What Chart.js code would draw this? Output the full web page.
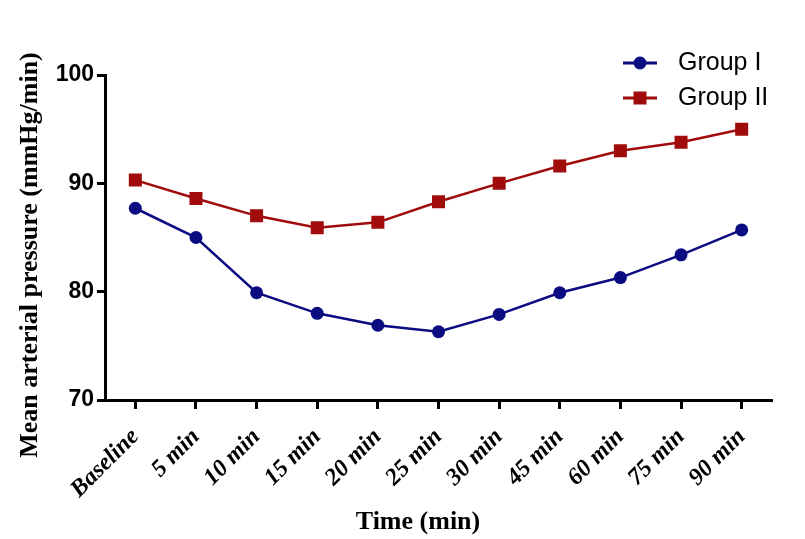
<!DOCTYPE html>
<html>
<head>
<meta charset="utf-8">
<script src="https://cdn.jsdelivr.net/npm/chart.js@4"></script>
<style>
  html, body { margin: 0; padding: 0; background: #fff; }
  #wrap { width: 805px; height: 539px; }
</style>
</head>
<body>
<div id="wrap"><canvas id="mapchart" width="805" height="539"></canvas></div>
<script>
// data
const categories = ['Baseline', '5 min', '10 min', '15 min', '20 min', '25 min', '30 min', '45 min', '60 min', '75 min', '90 min'];
const group1 = [87.7, 85.0, 79.9, 78.0, 76.9, 76.3, 77.9, 79.9, 81.3, 83.4, 85.7];
const group2 = [90.3, 88.6, 87.0, 85.9, 86.4, 88.3, 90.0, 91.6, 93.0, 93.8, 95.0];
const yTicks = [70, 80, 90, 100];

const blue = '#0b0b82';
const red = '#a00c0c';

// axis titles + legend drawn by hand
const extras = {
    id: 'extras',
    afterDraw(chart) {
        const ctx = chart.ctx;
        ctx.save();
        ctx.fillStyle = '#000';
        ctx.textAlign = 'center';
        ctx.textBaseline = 'middle';

        ctx.font = 'bold 26px "Liberation Serif"';
        ctx.fillText('Time (min)', 418, 522);

        ctx.translate(30, 255);
        ctx.rotate(-Math.PI / 2);
        ctx.fillText('Mean arterial pressure (mmHg/min)', 0, 0);
        ctx.restore();

        // legend
        const items = [
            { label: 'Group I', color: blue, style: 'circle', y: 63 },
            { label: 'Group II', color: red, style: 'rect', y: 98 }
        ];
        ctx.save();
        items.forEach(function (it) {
            ctx.strokeStyle = it.color;
            ctx.fillStyle = it.color;
            ctx.lineWidth = 3;
            ctx.beginPath();
            ctx.moveTo(623, it.y);
            ctx.lineTo(657, it.y);
            ctx.stroke();
            if (it.style === 'circle') {
                ctx.beginPath();
                ctx.arc(640, it.y, 6.5, 0, Math.PI * 2);
                ctx.fill();
            } else {
                ctx.fillRect(633.5, it.y - 6.5, 13, 13);
            }
            ctx.fillStyle = '#000';
            ctx.font = '25px "Liberation Sans"';
            ctx.textAlign = 'left';
            ctx.textBaseline = 'middle';
            ctx.fillText(it.label, 678, it.y);
        });
        ctx.restore();
    }
};

const ctx = document.getElementById('mapchart').getContext('2d');
const mapchart = new Chart(ctx, {
    type: 'line',
    data: {
        labels: categories,
        datasets: [{
            label: 'Group I',
            data: group1,
            borderColor: blue,
            backgroundColor: blue,
            borderWidth: 2.5,
            pointStyle: 'circle',
            pointRadius: 6.5,
            pointHoverRadius: 6.5,
            pointBorderWidth: 0,
            tension: 0
        }, {
            label: 'Group II',
            data: group2,
            borderColor: red,
            backgroundColor: red,
            borderWidth: 2.5,
            pointStyle: 'rect',
            pointRadius: 9.2,
            pointHoverRadius: 9.2,
            pointBorderWidth: 0,
            tension: 0
        }]
    },
    options: {
        responsive: false,
        animation: false,
        devicePixelRatio: 1,
        layout: { padding: { top: 75, right: 33, left: 0, bottom: 0 } },
        plugins: {
            legend: { display: false },
            tooltip: { enabled: false }
        },
        scales: {
            x: {
                offset: true,
                afterFit: function (scale) { scale.height = 139; },
                border: { display: true, color: '#000', width: 3 },
                grid: {
                    drawOnChartArea: false,
                    drawTicks: true,
                    tickLength: 9,
                    tickWidth: 3,
                    tickColor: '#000',
                    offset: false
                },
                ticks: {
                    color: '#000',
                    maxRotation: 45,
                    minRotation: 45,
                    padding: 14,
                    autoSkip: false,
                    font: { family: '"Liberation Serif"', size: 24, weight: 'bold', style: 'italic' }
                }
            },
            y: {
                min: 70,
                max: 100,
                afterFit: function (scale) { scale.width = 105; },
                afterBuildTicks: function (scale) {
                    scale.ticks = yTicks.map(function (v) { return { value: v }; });
                },
                border: { display: true, color: '#000', width: 3 },
                grid: {
                    drawOnChartArea: false,
                    drawTicks: true,
                    tickLength: 8,
                    tickWidth: 3,
                    tickColor: '#000'
                },
                ticks: {
                    color: '#000',
                    padding: 3,
                    font: { family: '"Liberation Sans"', size: 23, weight: 'bold' }
                }
            }
        }
    },
    plugins: [extras]
});
</script>
</body>
</html>
